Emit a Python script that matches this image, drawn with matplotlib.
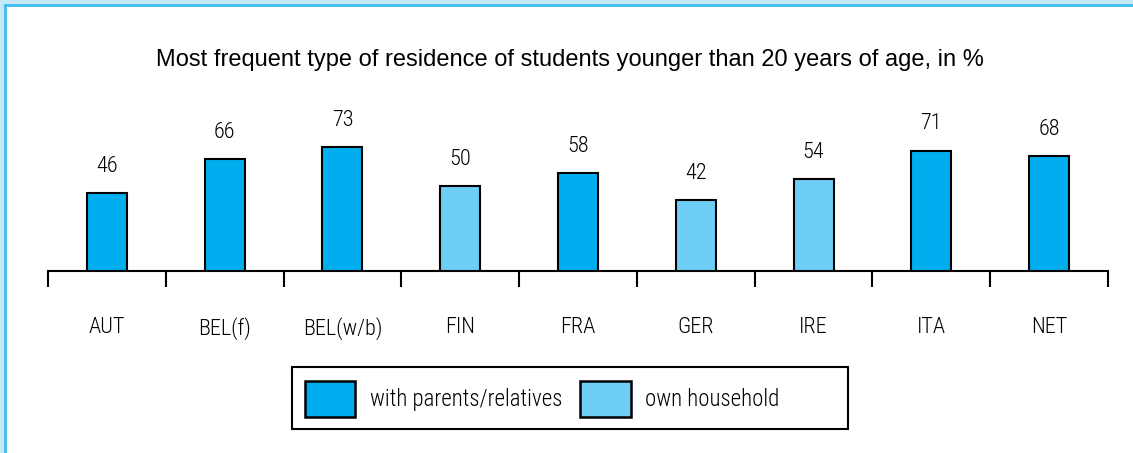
import matplotlib.pyplot as plt
from matplotlib.patches import Patch, Rectangle
from matplotlib.lines import Line2D
import numpy as np

countries = ["AUT", "BEL(f)", "BEL(w/b)", "FIN", "FRA", "GER", "IRE", "ITA", "NET"]
values = [46, 66, 73, 50, 58, 42, 54, 71, 68]
# which type is most frequent: 0 = with parents/relatives, 1 = own household
residence = [0, 0, 0, 1, 0, 1, 1, 0, 0]
legend_labels = ["with parents/relatives", "own household"]
colors = ["#00aeef", "#6dcff6"]
title = "Most frequent type of residence of students younger than 20 years of age, in %"

narrow = ["Roboto Condensed", "Archivo Narrow", "DejaVu Sans"]

W, H = 1133, 453
fig = plt.figure(figsize=(W / 100, H / 100), dpi=100)
fig.patch.set_facecolor("#c6e9f8")
fig.patches.append(Rectangle((5 / W, 0), 1, 1 - 5 / H, transform=fig.transFigure,
                             facecolor="white", edgecolor="none", zorder=-2))
fig.lines.append(Line2D([5 / W, 5 / W], [0, 1 - 5 / H], transform=fig.transFigure,
                        color="#3fbff0", lw=2, zorder=-1))
fig.lines.append(Line2D([5 / W, 1], [1 - 5 / H, 1 - 5 / H], transform=fig.transFigure,
                        color="#3fbff0", lw=2, zorder=-1))

px_per_unit = 1.696
ax = fig.add_axes([48 / W, 1 - 271 / H, 1060 / W, 100 * px_per_unit / H])
ax.set_facecolor("none")

x = np.arange(len(countries))
bar_colors = [colors[r] for r in residence]
ax.bar(x, values, width=0.34, color=bar_colors, edgecolor="black", linewidth=1.5, zorder=3)
for xi, v in zip(x, values):
    ax.text(xi, v + 9.5, str(v), ha="center", va="bottom", fontsize=16,
            family=narrow, fontweight="light")

ax.set_xlim(-0.5, len(countries) - 0.5)
ax.set_ylim(0, 100)
for s in ["top", "right", "left"]:
    ax.spines[s].set_visible(False)
ax.spines["bottom"].set_linewidth(1.5)
ax.set_yticks([])
ax.set_xticks(x)
ax.set_xticklabels(countries, fontsize=16, family=narrow, fontweight="light")
ax.tick_params(axis="x", which="major", length=0, pad=33)
ax.set_xticks(np.arange(-0.5, len(countries)), minor=True)
ax.tick_params(axis="x", which="minor", length=11.5, width=1.5, direction="out")

fig.text(570 / W, 1 - 60 / H, title, ha="center", va="center", fontsize=17,
         family=["Liberation Sans", "DejaVu Sans"])

# legend frame drawn by hand, it is wider than its contents
fig.patches.append(Rectangle((292 / W, 1 - 429 / H), 556 / W, 62 / H, transform=fig.transFigure,
                             facecolor="white", edgecolor="black", linewidth=1.5, zorder=1))
handles = [Patch(facecolor=c, edgecolor="black", linewidth=1.8) for c in colors]
leg = fig.legend(handles, legend_labels, loc="center left", bbox_to_anchor=(305 / W, 1 - 399 / H),
                 ncol=2, prop={"family": narrow, "size": 16.5, "weight": "light"}, handlelength=2.2,
                 handleheight=2.1, handletextpad=0.62, columnspacing=0.8,
                 borderpad=0, borderaxespad=0, frameon=False)
leg.set_zorder(2)

fig.savefig("out.png", dpi=100)
